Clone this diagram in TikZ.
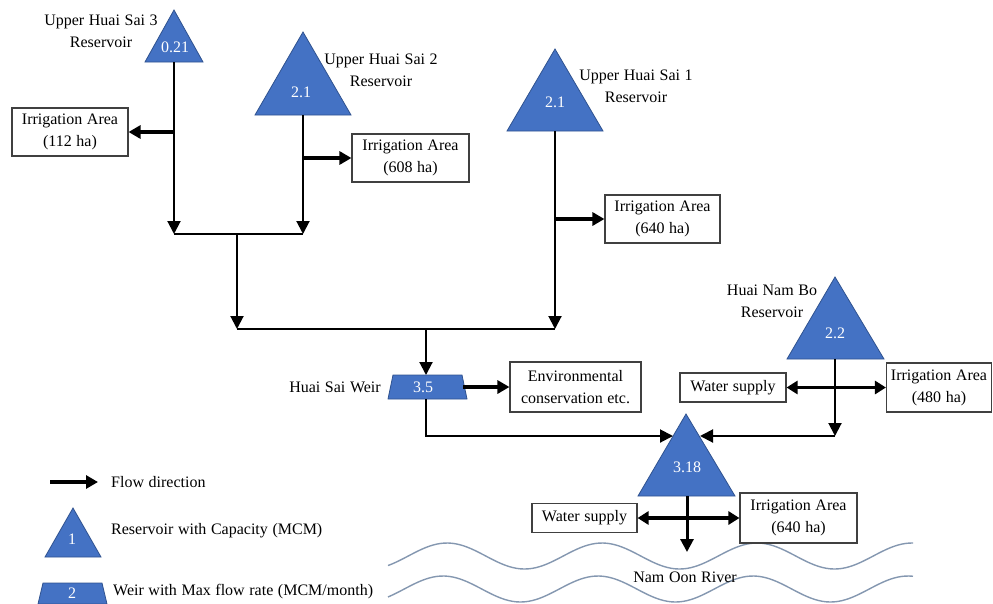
\documentclass[tikz,border=0pt]{standalone}
\usepackage{fontspec}
\setmainfont{Liberation Serif}
\usetikzlibrary{arrows.meta}
\definecolor{resblue}{HTML}{4472C4}
\definecolor{resedge}{HTML}{2F528F}
\definecolor{boxgray}{HTML}{404040}
\definecolor{wavecol}{HTML}{8497B0}
\newcommand\diafont{\fontsize{16}{22}\selectfont\spaceskip 4.6pt plus 1pt minus 0.5pt\relax}
\begin{document}
\begin{tikzpicture}[x=1pt,y=-1pt,
  font=\diafont,
  res/.style={fill=resblue, draw=resedge, line width=0.8pt, line join=miter},
  num/.style={text=white, inner sep=0pt},
  lbl/.style={align=center, inner sep=0pt},
  box/.style={draw=boxgray, line width=1.1pt, fill=white, align=center, inner sep=0pt},
  flow/.style={line width=2pt, -{Triangle[length=13pt,width=13pt]}},
  branch/.style={line width=4pt, -{Triangle[length=12pt,width=13pt]}},
  both/.style={line width=3.5pt, {Triangle[length=11pt,width=13pt]}-{Triangle[length=11pt,width=13pt]}},
  pipe/.style={line width=2pt},
  wave/.style={draw=wavecol, line width=1.4pt}]
\useasboundingbox (0,0) rectangle (993,603);
% rivers
\draw[wave] plot[domain=388:913, samples=140, smooth] (\x, {556-13*cos(2.32258*(\x-447))});
\draw[wave] plot[domain=388:913, samples=140, smooth] (\x, {589-13*cos(2.32258*(\x-443))});
\node[lbl] (river) at (685,577) {Nam Oon River};
% reservoirs
\fill[res] (174,10) -- (203,62) -- (145,62) -- cycle;
\coordinate (t3) at (174,62);
\node[num] (n3) at (175,47) {0.21};
\node[lbl] (l3) at (101,31) {Upper Huai Sai 3\\Reservoir};
\fill[res] (303,32) -- (351,115) -- (255,115) -- cycle;
\coordinate (t2) at (303,115);
\node[num] (n2) at (301,92) {2.1};
\node[lbl] (l2) at (381,70) {Upper Huai Sai 2\\Reservoir};
\fill[res] (555,49) -- (603,131) -- (507,131) -- cycle;
\coordinate (t1) at (555,131);
\node[num] (n1) at (555,102) {2.1};
\node[lbl] (l1) at (636,86) {Upper Huai Sai 1\\Reservoir};
\fill[res] (835,277) -- (884,359) -- (787,359) -- cycle;
\coordinate (tnb) at (835,359);
\node[num] (nnb) at (835,333) {2.2};
\node[lbl] (lnb) at (772,301) {Huai Nam Bo\\Reservoir};
\fill[res] (686,414) -- (735,496) -- (638,496) -- cycle;
\coordinate (tlow) at (687,496);
\coordinate (tlowl) at (673,436);
\coordinate (tlowr) at (700,436);
\node[num] (nlow) at (687,467) {3.18};
% weir
\fill[res] (393,375) -- (462,375) -- (467,399) -- (388,399) -- cycle;
\coordinate (wtop) at (426,375);
\coordinate (wbot) at (426,399);
\coordinate (weast) at (463,387);
\node[num] (nw) at (423,387) {3.5};
\node[lbl] (lw) at (335,387) {Huai Sai Weir};
% boxes
\node[box, minimum width=116pt, minimum height=48pt] (b112) at (70,132) {Irrigation Area\\(112 ha)};
\node[box, minimum width=117pt, minimum height=48pt] (b608) at (410.5,158) {Irrigation Area\\(608 ha)};
\node[box, minimum width=115pt, minimum height=48pt] (b640) at (662.5,219) {Irrigation Area\\(640 ha)};
\node[box, minimum width=131pt, minimum height=50pt] (env) at (575.5,387) {Environmental\\conservation etc.};
\node[box, minimum width=106pt, minimum height=29pt] (ws1) at (733,387.5) {Water supply};
\node[box, minimum width=105pt, minimum height=49pt] (b480) at (939,387.5) {Irrigation Area\\(480 ha)};
\node[box, minimum width=105pt, minimum height=29pt] (ws2) at (584.5,518) {Water supply};
\node[box, minimum width=117pt, minimum height=50pt] (b640b) at (798.5,518) {Irrigation Area\\(640 ha)};
% junctions
\coordinate (j3) at (174,234);
\coordinate (j2) at (303,234);
\coordinate (jm) at (237,234);
\coordinate (jl) at (237,329);
\coordinate (j1) at (555,329);
\coordinate (jw) at (426,329);
\coordinate (jnb) at (835,436);
\coordinate (sea) at (687,552);
% connectors
\draw[flow] (t3) -- (j3);
\draw[branch] (t3 |- b112.east) -- (b112.east);
\draw[flow] (t2) -- (j2);
\draw[branch] (t2 |- b608.west) -- (b608.west);
\draw[pipe] (j3) -- (j2);
\draw[flow] (jm) -- (jl);
\draw[pipe] (jl) -- (j1);
\draw[flow] (t1) -- (j1);
\draw[branch] (t1 |- b640.west) -- (b640.west);
\draw[flow] (jw) -- (wtop);
\draw[branch] (weast) -- (env.west);
\draw[flow] (wbot) |- (tlowl);
\draw[flow] (tnb) -- (jnb);
\draw[flow] (jnb) -- (tlowr);
\draw[both] (ws1.east) -- (b480.west);
\draw[both] (ws2.east) -- (b640b.west);
\draw[flow, line width=3pt] (tlow) -- (sea);
% legend
\coordinate (la) at (50,482);
\coordinate (lb) at (98,482);
\draw[branch] (la) -- (lb);
\node[lbl, anchor=west] (lt1) at (111,482) {Flow direction};
\fill[res] (73,508) -- (101,557) -- (45,557) -- cycle;
\node[num] (ln1) at (72,539) {1};
\node[lbl, anchor=west] (lt2) at (111,531) {Reservoir with Capacity (MCM)};
\fill[res] (43,583) -- (102,583) -- (107,604) -- (38,604) -- cycle;
\node[num] (ln2) at (72,593) {2};
\node[lbl, anchor=west] (lt3) at (113,592) {Weir with Max flow rate (MCM/month)};
\end{tikzpicture}
\end{document}
